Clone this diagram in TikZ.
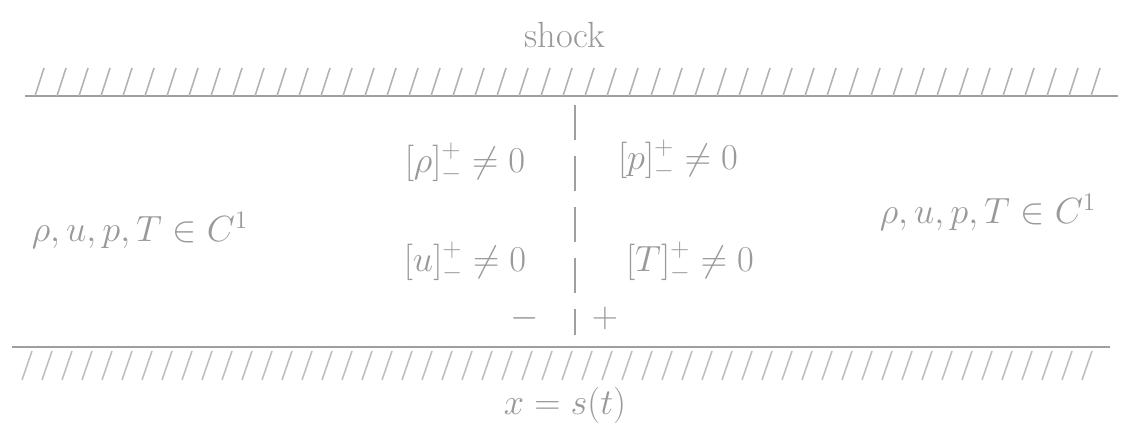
\documentclass[tikz,border=0pt]{standalone}
\usepackage{amsmath}
\usepackage{amssymb}
\usepackage{tikz}

\begin{document}
\begin{tikzpicture}[x=0.02cm,y=-0.02cm, pencil/.style={draw=gray!75, line width=0.9pt}, lbl/.style={text=gray!80, font=\huge, inner sep=1pt}]
            \useasboundingbox (0,0) rectangle (1131,427);
            % walls
            \draw[pencil] (25,96) -- (1118,96);
            \foreach \x in {35,57,...,1100}
                \draw[pencil, gray!60] (\x,96) -- (\x+9,68);
            \draw[pencil] (12,347) -- (1110,347);
            \foreach \x in {22,42,...,1100}
                \draw[pencil, gray!50] (\x,380) -- (\x+10,351);
            % shock
            \draw[pencil, dashed, dash pattern=on 20pt off 9pt] (575,105) -- (575,335);
            \node[lbl] (top) at (565,35) {shock};
            \node[lbl] (bot) at (565,405) {$x=s(t)$};
            \node[lbl] (left) at (140,230) {$\rho,u,p,T\in C^1$};
            \node[lbl] (right) at (988,212) {$\rho,u,p,T\in C^1$};
            \node[lbl] (jr) at (465,163) {$[\rho]^+_-\neq0$};
            \node[lbl] (jp) at (678,160) {$[p]^+_-\neq0$};
            \node[lbl] (ju) at (465,262) {$[u]^+_-\neq0$};
            \node[lbl] (jt) at (690,262) {$[T]^+_-\neq0$};
            \node[lbl] (minus) at (525,318) {$-$};
            \node[lbl] (plus) at (605,318) {$+$};
        \end{tikzpicture}
\end{document}
